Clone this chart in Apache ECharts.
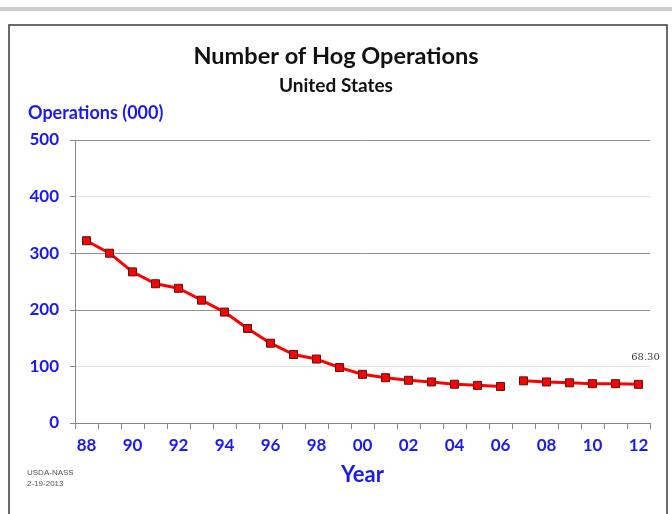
<!DOCTYPE html>
<html>
<head>
<meta charset="utf-8">
<script src="https://cdn.jsdelivr.net/npm/echarts@6/dist/echarts.min.js"></script>
<style>
  html, body { margin: 0; padding: 0; background: #ffffff; }
  #chart { width: 672px; height: 514px; }
</style>
</head>
<body>
<div id="chart"></div>
<script>
// Hog operations in the United States, thousands, 1988-2012
const years = ['88','89','90','91','92','93','94','95','96','97','98','99',
               '00','01','02','03','04','05','06','07','08','09','10','11','12'];
const operations = [322, 300, 267, 246, 238, 217, 196, 167, 141, 121, 113, 98,
                    86, 80, 75.5, 72.5, 68.5, 66.5, 64.5, 74.5, 72.5, 71, 69.5, 69.5, 68.3];
// the series is drawn in two pieces: the line is broken between 06 and 07
const breakAfter = '06';
const yTicks = [0, 100, 200, 300, 400, 500];

const BLUE = '#1a1af0';
const FONT = 'Lato, "Open Sans", sans-serif';
const cut = years.indexOf(breakAfter);
const partA = operations.map((v, i) => (i <= cut ? v : '-'));
const partB = operations.map((v, i) => (i > cut ? v : '-'));
const lastIdx = operations.length - 1;

const lineSeries = (data) => ({
  type: 'line',
  data: data,
  symbol: 'rect',
  symbolSize: 8,
  lineStyle: { color: '#ff0000', width: 3 },
  itemStyle: { color: '#ff0000', borderColor: '#4a1a1a', borderWidth: 1 },
  connectNulls: false,
  animation: false,
  z: 3
});

const seriesB = lineSeries(partB);
seriesB.data = partB.map((v, i) => i === lastIdx ? {
  value: v,
  label: {
    show: true,
    position: 'top',
    distance: 5,
    offset: [7, -12],
    formatter: (p) => Number(p.value).toFixed(2),
    fontFamily: '"DejaVu Serif", "Liberation Serif", serif',
    fontSize: 10,
    color: '#404040'
  }
} : v);

const chart = echarts.init(document.getElementById('chart'), null, { renderer: 'canvas' });
chart.setOption({
  backgroundColor: '#ffffff',
  animation: false,
  title: [
    { text: 'Number of Hog Operations', left: 'center', top: 39,
      textStyle: { fontFamily: FONT, fontSize: 23.5, fontWeight: 'bold', color: '#111' } },
    { text: 'United States', left: 'center', top: 71,
      textStyle: { fontFamily: FONT, fontSize: 19, fontWeight: 'bold', color: '#111' } }
  ],
  grid: { left: 75, right: 22, top: 140, bottom: 91, containLabel: false },
  xAxis: {
    type: 'category',
    data: years,
    boundaryGap: true,
    axisLine: { lineStyle: { color: '#888', width: 1 } },
    axisTick: { show: true, interval: 0, length: 6, lineStyle: { color: '#888' } },
    axisLabel: { interval: 1, margin: 14, color: BLUE, fontFamily: FONT,
                 fontSize: 17, fontWeight: 'bold' },
    name: 'Year',
    nameLocation: 'middle',
    nameGap: 41,
    nameTextStyle: { color: BLUE, fontFamily: FONT, fontSize: 22, fontWeight: 'bold' },
    splitLine: { show: false }
  },
  yAxis: {
    type: 'value',
    min: yTicks[0],
    max: yTicks[yTicks.length - 1],
    interval: 100,
    axisLine: { show: true, lineStyle: { color: '#888', width: 1 } },
    axisTick: { show: true, length: 5, lineStyle: { color: '#888' } },
    axisLabel: { margin: 16, color: BLUE, fontFamily: FONT, fontSize: 17, fontWeight: 'bold' },
    splitLine: {
      show: true,
      lineStyle: {
        color: ['#888888', '#dde2ea', '#909090', '#909090', '#dde2ea', '#909090'],
        width: 1
      }
    }
  },
  graphic: [
    { type: 'rect', shape: { x: 0, y: 7, width: 672, height: 4 },
      style: { fill: '#cdcdcd' }, silent: true },
    { type: 'rect', shape: { x: 9, y: 25, width: 658, height: 520 },
      style: { fill: 'none', stroke: '#3a3a3a', lineWidth: 1.5 }, silent: true },
    { type: 'text', left: 28, top: 104,
      style: { text: 'Operations (000)', fill: BLUE, font: 'bold 18px ' + FONT } },
    { type: 'text', left: 27, top: 467,
      style: { text: 'USDA-NASS\n2-19-2013', fill: '#555', font: '8px "Liberation Sans", sans-serif',
               lineHeight: 11 } }
  ],
  series: [lineSeries(partA), seriesB]
});
</script>
</body>
</html>
